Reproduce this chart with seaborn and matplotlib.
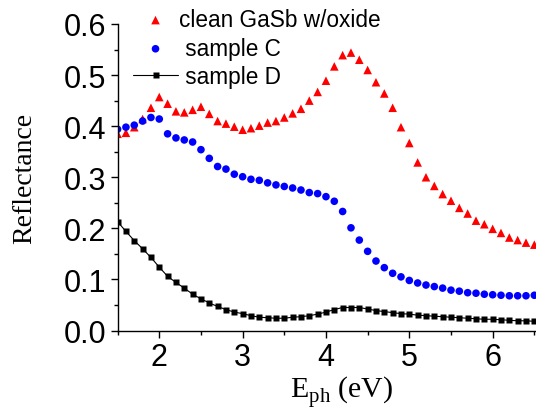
import numpy as np
import matplotlib
matplotlib.use('Agg')
import matplotlib.pyplot as plt
import pandas as pd
import seaborn as sns

# photon energy grid (eV), 0.1 eV steps
energy = np.round(np.arange(1.5, 6.51, 0.1), 2)

refl_gasb = [0.385, 0.387, 0.398, 0.414, 0.436, 0.457, 0.444, 0.429, 0.427, 0.432,
             0.438, 0.424, 0.410, 0.405, 0.399, 0.393, 0.396, 0.401, 0.407, 0.410,
             0.417, 0.425, 0.434, 0.450, 0.467, 0.489, 0.517, 0.539, 0.544, 0.530,
             0.510, 0.486, 0.464, 0.436, 0.398, 0.367, 0.329, 0.300, 0.283, 0.267,
             0.254, 0.240, 0.229, 0.215, 0.208, 0.199, 0.191, 0.182, 0.177, 0.172,
             0.168]

refl_c = [0.394, 0.398, 0.402, 0.410, 0.417, 0.414, 0.385, 0.377, 0.373, 0.369,
          0.354, 0.337, 0.321, 0.316, 0.306, 0.301, 0.296, 0.294, 0.289, 0.285,
          0.282, 0.279, 0.275, 0.270, 0.268, 0.262, 0.253, 0.233, 0.201, 0.177,
          0.155, 0.136, 0.123, 0.112, 0.105, 0.098, 0.093, 0.089, 0.086, 0.083,
          0.079, 0.077, 0.074, 0.073, 0.071, 0.070, 0.069, 0.068, 0.068, 0.068,
          0.069]

refl_d = [0.213, 0.194, 0.176, 0.160, 0.143, 0.124, 0.106, 0.094, 0.083, 0.071,
          0.062, 0.054, 0.047, 0.041, 0.036, 0.033, 0.029, 0.026, 0.025, 0.024,
          0.024, 0.026, 0.027, 0.029, 0.032, 0.036, 0.041, 0.045, 0.045, 0.045,
          0.042, 0.039, 0.037, 0.035, 0.033, 0.032, 0.030, 0.029, 0.028, 0.027,
          0.026, 0.025, 0.024, 0.023, 0.022, 0.022, 0.021, 0.020, 0.019, 0.019,
          0.018]

labels = ['clean GaSb w/oxide', ' sample C', ' sample D']

df = pd.DataFrame({'E': energy, 'gasb': refl_gasb, 'c': refl_c, 'd': refl_d})

sns.set_style('ticks')
plt.rcParams['font.family'] = ['Liberation Sans', 'DejaVu Sans']
plt.rcParams['mathtext.fontset'] = 'custom'
plt.rcParams['mathtext.rm'] = 'Liberation Serif'
for key in ['text.color', 'axes.labelcolor', 'xtick.color', 'ytick.color']:
    plt.rcParams[key] = 'black'

fig = plt.figure(figsize=(5.36, 4.10), dpi=100)
ax = fig.add_axes([117.6 / 536, 78.5 / 410, 418.4 / 536, 306.5 / 410])

sns.scatterplot(data=df, x='E', y='gasb', ax=ax, marker='^', color='#ff0000',
                s=38, edgecolor='none', label=labels[0])
sns.scatterplot(data=df, x='E', y='c', ax=ax, marker='o', color='#0000ff',
                s=30, edgecolor='none', label=labels[1])
sns.lineplot(data=df, x='E', y='d', ax=ax, color='black', lw=0.8, marker='s',
             markersize=4.5, markeredgecolor='none', label=labels[2])

ax.set_xlim(1.5, 6.52)
ax.set_ylim(0, 0.6)
ax.set_xticks([2, 3, 4, 5, 6])
ax.set_xticks(np.arange(1.5, 6.6, 0.5), minor=True)
ax.set_yticks(np.arange(0, 0.61, 0.1))
ax.set_yticks(np.arange(0, 0.61, 0.05), minor=True)
ax.set_yticklabels(['%.1f' % v for v in np.arange(0, 0.61, 0.1)])
ax.tick_params(which='major', labelsize=22, length=5, width=1, direction='out', pad=3)
ax.tick_params(which='minor', length=3, width=1, direction='out')
sns.despine(ax=ax)
for sp in ax.spines.values():
    sp.set_linewidth(1)
    sp.set_color('black')

ax.set_ylabel('Reflectance', family='Liberation Serif', fontsize=20, labelpad=19)
ax.set_xlabel(r'E$_{\rm ph}$ (eV)', family='Liberation Serif', fontsize=21.5)
ax.xaxis.set_label_coords(0.536, -0.255)
ax.xaxis.label.set_va('bottom')

ax.legend_.remove()
h, l = ax.get_legend_handles_labels()
fig.legend(h, l, loc='upper left', bbox_to_anchor=(0.231, 1.0), frameon=False,
           fontsize=16.3, handlelength=2.0, handletextpad=0.05, labelspacing=0.25,
           borderaxespad=0)

fig.savefig('out.png', dpi=100)
